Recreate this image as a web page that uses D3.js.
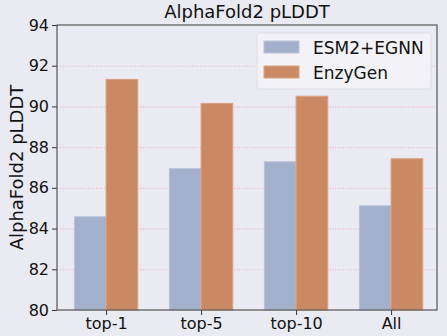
<!DOCTYPE html>
<html>
<head>
<meta charset="utf-8">
<script src="https://cdn.jsdelivr.net/npm/d3@7"></script>
<style>
  body { margin: 0; background: #eaeaf2; }
  svg { display: block; font-family: "DejaVu Sans", sans-serif; }
</style>
</head>
<body>
<svg id="chart" width="447" height="336"></svg>
<script>
const categories = ["top-1", "top-5", "top-10", "All"];
const seriesNames = ["ESM2+EGNN", "EnzyGen"];
const esmEgnn = [84.58, 86.94, 87.28, 85.12];
const enzyGen = [91.33, 90.15, 90.50, 87.43];
const yTicks = [80, 82, 84, 86, 88, 90, 92, 94];
const colors = ["#a2b0cb", "#cb8963"];

const margin = { top: 25, right: 10, bottom: 26, left: 57 };
const width = 447, height = 336;
const svg = d3.select("#chart");

svg.append("rect").attr("width", width).attr("height", height).attr("fill", "#eaeaf2");

// x in group units, bars are 1/3 wide, ticks sit on the orange bar
const barW = 1 / 3;
const x = d3.scaleLinear()
  .domain([-0.35, 3.65])
  .range([margin.left, width - margin.right]);
const y = d3.scaleLinear()
  .domain([80, 94])
  .range([height - margin.bottom, margin.top]);

// grid
svg.append("g")
  .selectAll("line")
  .data(yTicks.filter(t => t > 80 && t < 94))
  .join("line")
  .attr("x1", x.range()[0]).attr("x2", x.range()[1])
  .attr("y1", d => y(d) + 0.5).attr("y2", d => y(d) + 0.5)
  .attr("stroke", "#f08080")
  .attr("stroke-opacity", 0.7)
  .attr("stroke-width", 0.8)
  .attr("stroke-dasharray", "1,1.6");

const series = [esmEgnn, enzyGen];
series.forEach((vals, s) => {
  svg.append("g")
    .selectAll("rect")
    .data(vals)
    .join("rect")
    .attr("x", (d, i) => x(i + s * barW - barW / 2))
    .attr("width", x(barW) - x(0))
    .attr("y", d => y(d))
    .attr("height", d => y(80) - y(d))
    .attr("fill", colors[s])
    .attr("stroke", s === 0 ? "#b8c2d8" : "#dba080")
    .attr("stroke-width", 1);
});

// axes
const yAxis = d3.axisLeft(y).tickValues(yTicks).tickSize(5).tickPadding(3);
const gy = svg.append("g")
  .attr("transform", `translate(${margin.left},0)`)
  .call(yAxis);
gy.select(".domain").remove();
gy.selectAll("text").attr("font-size", 16).attr("fill", "#111").attr("font-family", "DejaVu Sans");
gy.selectAll("line").attr("stroke", "#333");

const xAxis = d3.axisBottom(x)
  .tickValues(categories.map((c, i) => i + barW / 2))
  .tickFormat((d, i) => categories[i])
  .tickSize(5).tickPadding(3);
const gx = svg.append("g")
  .attr("transform", `translate(0,${height - margin.bottom})`)
  .call(xAxis);
gx.select(".domain").remove();
gx.selectAll("text").attr("font-size", 16).attr("fill", "#111").attr("font-family", "DejaVu Sans");
gx.selectAll("line").attr("stroke", "#333");

// frame
svg.append("rect")
  .attr("x", x.range()[0]).attr("y", y(94))
  .attr("width", x.range()[1] - x.range()[0])
  .attr("height", y(80) - y(94))
  .attr("fill", "none")
  .attr("stroke", "#555")
  .attr("stroke-width", 1.2);

// title + y label
svg.append("text")
  .attr("x", (x.range()[0] + x.range()[1]) / 2)
  .attr("y", 18)
  .attr("text-anchor", "middle")
  .attr("font-size", 18)
  .attr("fill", "#111")
  .text("AlphaFold2 pLDDT");

svg.append("text")
  .attr("transform", `translate(23,${(y(80) + y(94)) / 2}) rotate(-90)`)
  .attr("text-anchor", "middle")
  .attr("font-size", 18)
  .attr("fill", "#111")
  .text("AlphaFold2 pLDDT");

// legend
const lg = svg.append("g").attr("transform", "translate(257,33)");
lg.append("rect")
  .attr("width", 174).attr("height", 56).attr("rx", 3)
  .attr("fill", "#f4f4f8").attr("fill-opacity", 0.85)
  .attr("stroke", "#dcdce4");
seriesNames.forEach((name, i) => {
  lg.append("rect")
    .attr("x", 7).attr("y", 8 + i * 25)
    .attr("width", 35).attr("height", 12)
    .attr("fill", colors[i])
    .attr("stroke", i === 0 ? "#b8c2d8" : "#dba080");
  lg.append("text")
    .attr("x", 56).attr("y", 21 + i * 25)
    .attr("font-size", 17)
    .attr("fill", "#111")
    .text(name);
});
</script>
</body>
</html>
